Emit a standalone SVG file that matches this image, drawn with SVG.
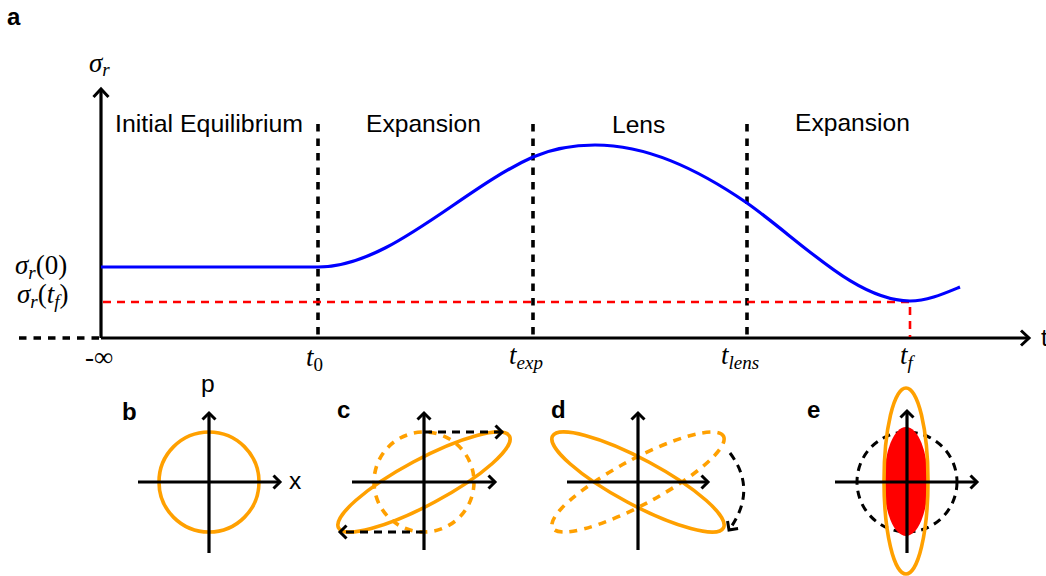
<svg xmlns="http://www.w3.org/2000/svg" width="1046" height="576" viewBox="0 0 1046 576">
<style>
.ax{stroke:#000;stroke-width:3.2;fill:none}
.vd{stroke:#000;stroke-width:3.6;stroke-dasharray:7.5 7;fill:none}
.bd{stroke:#000;stroke-width:3;stroke-dasharray:8 6;fill:none}
.rd{stroke:#f00;stroke-width:2.6;stroke-dasharray:8 6;fill:none}
.blue{stroke:#00f;stroke-width:3.2;fill:none}
.or{stroke:#FFA000;stroke-width:3.6;fill:none}
.ord{stroke:#FFA000;stroke-width:3.6;fill:none;stroke-dasharray:8 7}
.lbl{font-family:"Liberation Sans",Arial,sans-serif;font-size:24.6px;fill:#000}
.pl{font-family:"Liberation Sans",Arial,sans-serif;font-size:24px;font-weight:bold;fill:#000}
.m{font-family:"Liberation Serif","Times New Roman",serif;font-size:27px;font-style:italic;fill:#000}
.up{font-style:normal}
.sub{font-size:19px}
</style>
<defs>
<marker id="ah" markerUnits="userSpaceOnUse" viewBox="-12 -12 24 24" markerWidth="24" markerHeight="24" refX="0" refY="0" orient="auto">
<path d="M-8,-7.5 L0,0 L-8,7.5" fill="none" stroke="#000" stroke-width="3" stroke-dasharray="none"/>
</marker>
<marker id="ahs" markerUnits="userSpaceOnUse" viewBox="-12 -12 24 24" markerWidth="24" markerHeight="24" refX="0" refY="0" orient="auto">
<path d="M-6.5,-6.5 L0,0 L-6.5,6.5" fill="none" stroke="#000" stroke-width="3" stroke-dasharray="none"/>
</marker>
</defs>
<rect width="1046" height="576" fill="#fff"/>

<g id="panel-a">
<text class="pl" x="7" y="25">a</text>
<g id="axes-a">
<line class="ax" x1="101" y1="338" x2="101" y2="89" marker-end="url(#ah)"/>
<line class="ax" x1="101" y1="338" x2="1029" y2="338" marker-end="url(#ah)"/>
<line class="vd" x1="19" y1="338" x2="101" y2="338"/>
</g>
<g id="phase-lines">
<line class="vd" x1="318" y1="124" x2="318" y2="338"/>
<line class="vd" x1="533" y1="124" x2="533" y2="338"/>
<line class="vd" x1="747" y1="124" x2="747" y2="338"/>
</g>
<g id="final-guides">
<polyline class="rd" points="103,302 910,302 910,337"/>
</g>
<g id="sigma-curve">
<path class="blue" d="M101,267 L318,267 C390,267 461,189 533,157 C554,148 574,145 595,145 C646,145 696,168 747,203 C801,241 856,301 910,301 C927,301 943,294 960,287"/>
</g>
<g id="phase-labels">
<text class="lbl" x="115" y="132" textLength="188" lengthAdjust="spacingAndGlyphs">Initial Equilibrium</text>
<text class="lbl" x="366" y="132">Expansion</text>
<text class="lbl" x="612" y="133">Lens</text>
<text class="lbl" x="795" y="131">Expansion</text>
</g>
<g id="axis-labels">
<text class="m" x="89" y="72">σ<tspan class="sub" dy="4">r</tspan></text>
<text class="m" x="15" y="274">σ<tspan class="sub" dy="5">r</tspan><tspan class="up" dy="-5">(0)</tspan></text>
<text class="m" x="17" y="303">σ<tspan class="sub" dy="5">r</tspan><tspan class="up" dy="-5">(</tspan>t<tspan class="sub" dy="5">f</tspan><tspan class="up" dy="-5">)</tspan></text>
<text class="m up" x="85" y="366">-∞</text>
<text class="m" x="306" y="366">t<tspan class="sub up" dy="5">0</tspan></text>
<text class="m" x="509" y="364">t<tspan class="sub" dy="5">exp</tspan></text>
<text class="m" x="721" y="364">t<tspan class="sub" dy="5">lens</tspan></text>
<text class="m" x="900" y="364">t<tspan class="sub" dy="5">f</tspan></text>
<text class="lbl" x="1041" y="346">t</text>
</g>
</g>

<g id="panel-b">
<text class="pl" x="122" y="420">b</text>
<circle class="or" cx="209" cy="482" r="50"/>
<line class="ax" x1="209" y1="553" x2="209" y2="413" marker-end="url(#ahs)"/>
<line class="ax" x1="138" y1="482" x2="280" y2="482" marker-end="url(#ahs)"/>
<text class="lbl" x="201" y="392">p</text>
<text class="lbl" x="289" y="489">x</text>
</g>

<g id="panel-c">
<text class="pl" x="337" y="418">c</text>
<circle class="ord" cx="424" cy="482" r="50"/>
<ellipse class="or" cx="0" cy="0" rx="97" ry="22.7" transform="translate(424,482) rotate(-28.2)"/>
<line class="ax" x1="424" y1="550" x2="424" y2="413" marker-end="url(#ahs)"/>
<line class="ax" x1="352" y1="482" x2="495" y2="482" marker-end="url(#ahs)"/>
<line class="bd" x1="424" y1="432" x2="502" y2="432" marker-end="url(#ahs)"/>
<line class="bd" x1="424" y1="532" x2="340" y2="532" marker-end="url(#ahs)"/>
</g>

<g id="panel-d">
<text class="pl" x="551" y="418">d</text>
<ellipse class="ord" cx="0" cy="0" rx="97" ry="22.7" transform="translate(638,482) rotate(-28.2)"/>
<ellipse class="or" cx="0" cy="0" rx="97" ry="22.7" transform="translate(638,482) rotate(28.2)"/>
<line class="ax" x1="638" y1="550" x2="638" y2="413" marker-end="url(#ahs)"/>
<line class="ax" x1="567" y1="482" x2="708" y2="482" marker-end="url(#ahs)"/>
<path class="bd" d="M730,453 Q758,490 729,530" marker-end="url(#ahs)"/>
</g>

<g id="panel-e">
<text class="pl" x="807" y="418">e</text>
<circle class="bd" cx="907" cy="482" r="50"/>
<ellipse cx="906" cy="481.5" rx="22" ry="54.5" fill="#f00"/>
<ellipse class="or" cx="906" cy="481" rx="22" ry="93"/>
<line class="ax" x1="907" y1="553" x2="907" y2="411" marker-end="url(#ahs)"/>
<line class="ax" x1="835" y1="482" x2="977" y2="482" marker-end="url(#ahs)"/>
</g>
</svg>
